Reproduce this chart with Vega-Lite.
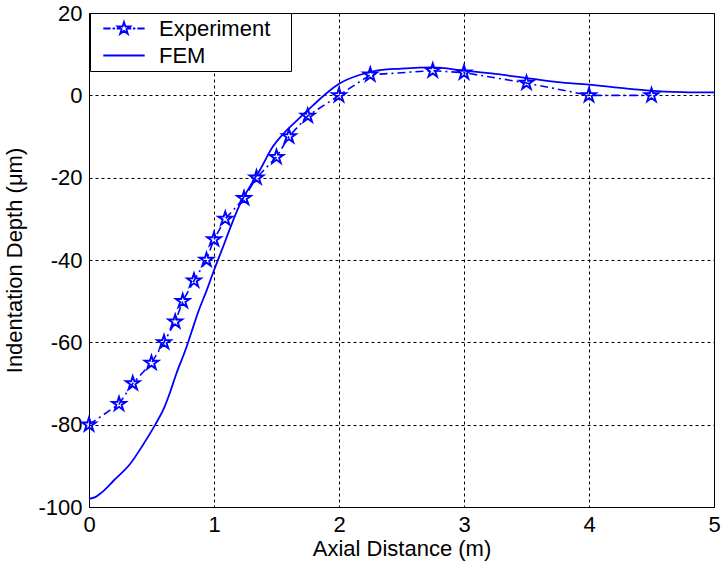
{
  "$schema": "https://vega.github.io/schema/vega-lite/v6.json",
  "width": 625,
  "height": 494,
  "autosize": {"type": "none"},
  "padding": {"left": 89, "top": 13, "right": 7, "bottom": 59},
  "background": "white",
  "config": {
    "view": {"stroke": "black", "strokeWidth": 1},
    "font": "Liberation Sans",
    "axis": {
      "domainColor": "black",
      "domainWidth": 1,
      "grid": true,
      "gridColor": "black",
      "gridOpacity": 1,
      "gridDash": [3, 3],
      "gridWidth": 1,
      "ticks": false,
      "labelFont": "Liberation Sans",
      "labelFontSize": 22,
      "labelColor": "black",
      "labelFlush": false,
      "labelOverlap": false,
      "titleFont": "Liberation Sans",
      "titleFontSize": 22,
      "titleFontWeight": "normal",
      "titleColor": "black"
    },
    "legend": {
      "labelFont": "Liberation Sans",
      "labelFontSize": 22,
      "labelColor": "black"
    }
  },
  "datasets": {
    "exp": [
      {"x": 0, "y": -80}, {"x": 0.24, "y": -75}, {"x": 0.35, "y": -70}, {"x": 0.5, "y": -65},
      {"x": 0.6, "y": -60}, {"x": 0.69, "y": -55}, {"x": 0.75, "y": -50}, {"x": 0.84, "y": -45},
      {"x": 0.94, "y": -40}, {"x": 1.0, "y": -35}, {"x": 1.09, "y": -30}, {"x": 1.24, "y": -25},
      {"x": 1.34, "y": -20}, {"x": 1.5, "y": -15}, {"x": 1.6, "y": -10}, {"x": 1.75, "y": -5},
      {"x": 2.0, "y": 0}, {"x": 2.25, "y": 5}, {"x": 2.75, "y": 6}, {"x": 3.0, "y": 5.5},
      {"x": 3.5, "y": 3}, {"x": 4.0, "y": 0}, {"x": 4.5, "y": 0}
    ],
    "fem": [
      {"x": 0, "y": -98}, {"x": 0.05, "y": -97.6}, {"x": 0.1, "y": -96.5}, {"x": 0.2, "y": -93.5},
      {"x": 0.33, "y": -89.5}, {"x": 0.43, "y": -85}, {"x": 0.53, "y": -80}, {"x": 0.6, "y": -76},
      {"x": 0.65, "y": -72}, {"x": 0.7, "y": -67.5}, {"x": 0.77, "y": -62}, {"x": 0.82, "y": -57.5},
      {"x": 0.875, "y": -52.5}, {"x": 0.94, "y": -47.5}, {"x": 1.0, "y": -42.5}, {"x": 1.07, "y": -37},
      {"x": 1.13, "y": -32.2}, {"x": 1.2, "y": -27}, {"x": 1.3, "y": -21.5}, {"x": 1.37, "y": -18},
      {"x": 1.47, "y": -12.5}, {"x": 1.55, "y": -9.5}, {"x": 1.66, "y": -6.2}, {"x": 1.79, "y": -2.5},
      {"x": 1.9, "y": 0.5}, {"x": 2.0, "y": 2.8}, {"x": 2.17, "y": 5}, {"x": 2.3, "y": 6},
      {"x": 2.5, "y": 6.5}, {"x": 2.75, "y": 6.8}, {"x": 3.0, "y": 6}, {"x": 3.25, "y": 5.2},
      {"x": 3.5, "y": 4.2}, {"x": 3.75, "y": 3.2}, {"x": 4.0, "y": 2.6}, {"x": 4.25, "y": 1.8},
      {"x": 4.5, "y": 1.1}, {"x": 4.75, "y": 0.8}, {"x": 5.0, "y": 0.7}
    ]
  },
  "layer": [
    {
      "data": {"name": "fem"},
      "mark": {"type": "line", "color": "#0000ff", "strokeWidth": 1.8, "interpolate": "monotone"},
      "encoding": {
        "x": {
          "field": "x", "type": "quantitative",
          "scale": {"domain": [0, 5], "nice": false, "zero": false},
          "axis": {"values": [0, 1, 2, 3, 4, 5], "title": "Axial Distance (m)", "labelPadding": 7, "titlePadding": 3, "labelExpr": "'' + datum.value"}
        },
        "y": {
          "field": "y", "type": "quantitative",
          "scale": {"domain": [-100, 20], "nice": false, "zero": false},
          "axis": {"values": [-100, -80, -60, -40, -20, 0, 20], "title": "Indentation Depth (μm)", "labelPadding": 7, "titlePadding": 11, "labelExpr": "'' + datum.value"}
        }
      }
    },
    {
      "data": {"name": "exp"},
      "mark": {"type": "line", "color": "#0000ff", "strokeWidth": 1.6, "strokeDash": [8, 4, 2, 4]},
      "encoding": {
        "x": {"field": "x", "type": "quantitative"},
        "y": {"field": "y", "type": "quantitative"}
      }
    },
    {
      "data": {"name": "exp"},
      "mark": {
        "type": "point",
        "shape": "M0,-1L0.2245,-0.309L0.951,-0.309L0.3633,0.118L0.5878,0.809L0,0.382L-0.5878,0.809L-0.3633,0.118L-0.951,-0.309L-0.2245,-0.309Z",
        "size": 210, "filled": false, "color": "#0000ff", "strokeWidth": 1.9, "opacity": 1
      },
      "encoding": {
        "x": {"field": "x", "type": "quantitative"},
        "y": {"field": "y", "type": "quantitative"}
      }
    },
    {
      "data": {"values": []},
      "mark": {"type": "point", "filled": false, "color": "#0000ff", "strokeWidth": 1.6, "opacity": 1},
      "encoding": {
        "shape": {
          "field": "series", "type": "nominal",
          "scale": {
            "domain": ["Experiment", "FEM"],
            "range": [
              "M-0.21,0L0.49,0M0.68,0L0.9,0M1.06,0L1.45,0M2.07,0L2.46,0M2.62,0L2.84,0M3.03,0L3.73,0M1.76,-0.62L1.899,-0.192L2.35,-0.192L1.985,0.073L2.124,0.502L1.76,0.237L1.396,0.502L1.535,0.073L1.17,-0.192L1.621,-0.192Z",
              "M-0.21,0L3.73,0M16.9,0"
            ]
          },
          "legend": {
            "title": null,
            "orient": "none",
            "legendX": 1,
            "legendY": 0,
            "padding": 4,
            "rowPadding": 4,
            "strokeColor": "black",
            "fillColor": "white",
            "symbolSize": 441,
            "symbolStrokeWidth": 1.8,
            "symbolStrokeColor": "#0000ff",
            "symbolFillColor": "transparent",
            "symbolOpacity": 1,
            "labelOffset": 42,
            "labelLimit": 400
          }
        }
      }
    }
  ]
}
